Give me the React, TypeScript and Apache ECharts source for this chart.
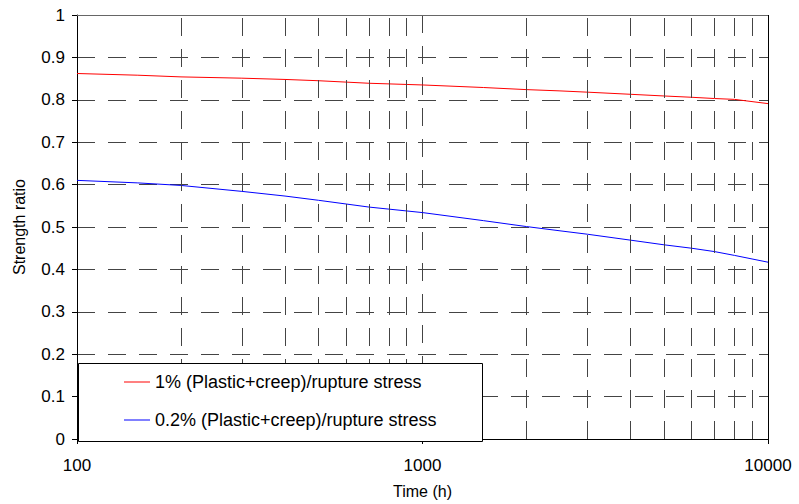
import React, { useEffect, useRef } from "react";
import * as echarts from "echarts";

const timeHours = [100, 150, 200, 300, 400, 500, 700, 1000, 1500, 2000, 2500, 3000, 4000, 5000, 6000, 7000, 8000, 10000];
const ratio1Pct = [0.862, 0.858, 0.854, 0.851, 0.848, 0.845, 0.839, 0.835, 0.829, 0.824, 0.821, 0.818, 0.813, 0.809, 0.806, 0.803, 0.801, 0.791];
const ratio02Pct = [0.61, 0.604, 0.598, 0.584, 0.573, 0.563, 0.547, 0.534, 0.515, 0.501, 0.491, 0.483, 0.469, 0.458, 0.45, 0.442, 0.433, 0.417];
const seriesNames = ["1% (Plastic+creep)/rupture stress", "0.2% (Plastic+creep)/rupture stress"];
const minorGridX = [200, 300, 400, 500, 600, 700, 800, 900, 2000, 3000, 4000, 5000, 6000, 7000, 8000, 9000];

const FONT = "Liberation Sans, Arial, sans-serif";

export default function App() {
  const ref = useRef<HTMLDivElement>(null);
  useEffect(() => {
    if (!ref.current) return;
    const chart = echarts.init(ref.current, null, { renderer: "svg" });
    const gridColor = "#444";
    const option: any = {
      animation: false,
      backgroundColor: "#fff",
      textStyle: { fontFamily: FONT },
      grid: { left: 77, right: 31, top: 15, bottom: 63 },
      xAxis: {
        type: "log",
        logBase: 10,
        min: 100,
        max: 10000,
        name: "Time (h)",
        nameLocation: "middle",
        nameGap: 44,
        nameTextStyle: { fontSize: 16, color: "#000", fontFamily: FONT },
        axisLine: { show: true, onZero: false, lineStyle: { color: "#000", width: 1 } },
        axisTick: { show: true, inside: false, length: 5, lineStyle: { color: "#000" } },
        axisLabel: {
          fontSize: 17,
          color: "#000",
          margin: 18,
          fontFamily: FONT,
          formatter: (v: number) => String(Math.round(v)),
        },
        splitLine: { show: true, lineStyle: { color: gridColor, type: [18, 13], width: 1 } },
        minorTick: { show: false },
        minorSplitLine: { show: false },
      },
      yAxis: {
        type: "value",
        min: 0,
        max: 1,
        interval: 0.1,
        name: "Strength ratio",
        nameLocation: "middle",
        nameGap: 50,
        nameTextStyle: { fontSize: 16, color: "#000", fontFamily: FONT },
        axisLine: { show: true, lineStyle: { color: "#000", width: 1 } },
        axisTick: { show: true, inside: false, length: 5, lineStyle: { color: "#000" } },
        axisLabel: { fontSize: 17, color: "#000", margin: 12, fontFamily: FONT },
        splitLine: { show: true, lineStyle: { color: gridColor, type: [18, 13], width: 1 } },
      },
      legend: {
        left: 124,
        top: 373,
        orient: "vertical",
        icon: "rect",
        itemWidth: 26,
        itemHeight: 1,
        itemGap: 20,
        padding: 0,
        data: seriesNames,
        textStyle: { fontSize: 18, color: "#000", fontFamily: FONT },
        z: 10,
      },
      graphic: [
        {
          type: "rect",
          z: 8,
          shape: { x: 78.5, y: 363.5, width: 404, height: 78 },
          style: { fill: "#fff", stroke: "#000", lineWidth: 1 },
        },
      ],
      series: [
        {
          name: "grid-minor",
          type: "line",
          data: [],
          silent: true,
          z: 1,
          markLine: {
            silent: true,
            symbol: "none",
            label: { show: false },
            lineStyle: { color: gridColor, type: [18, 13], width: 1 },
            data: minorGridX.map((v) => ({ xAxis: v })),
          },
        },
        {
          name: "borders",
          type: "line",
          data: [],
          silent: true,
          z: 1,
          markLine: {
            silent: true,
            symbol: "none",
            label: { show: false },
            lineStyle: { color: "#000", type: "solid", width: 1 },
            data: [{ xAxis: 10000 }, { yAxis: 1, lineStyle: { color: "#666" } }],
          },
        },
        {
          name: seriesNames[0],
          type: "line",
          symbol: "none",
          smooth: false,
          z: 3,
          lineStyle: { color: "#ff0000", width: 1 },
          itemStyle: { color: "#ff0000" },
          data: timeHours.map((t, i) => [t, ratio1Pct[i]]),
        },
        {
          name: seriesNames[1],
          type: "line",
          symbol: "none",
          smooth: false,
          z: 3,
          lineStyle: { color: "#0000ff", width: 1 },
          itemStyle: { color: "#0000ff" },
          data: timeHours.map((t, i) => [t, ratio02Pct[i]]),
        },
      ],
    };
    chart.setOption(option);
    return () => chart.dispose();
  }, []);
  return <div ref={ref} style={{ width: 799, height: 504, position: "absolute", left: 0, top: 0 }} />;
}
